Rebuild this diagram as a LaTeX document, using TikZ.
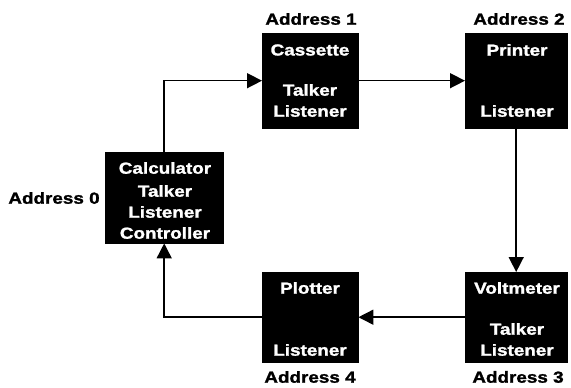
\documentclass[tikz,border=0pt]{standalone}
\usepackage{fontspec}
\setmainfont{Liberation Sans}[FakeStretch=1.18,FakeBold=1.5]
\usetikzlibrary{arrows.meta}

\begin{document}
\begin{tikzpicture}[x=1pt,y=-1pt]
\tikzstyle{every node}+=[inner sep=0pt,font=\fontsize{16}{19}\selectfont\bfseries]
\tikzstyle{box}=[fill=black,draw=black,anchor=north west]
\tikzstyle{txt}=[text=white]
\tikzstyle{arr}=[line width=1.5pt,-{Triangle[length=15pt,width=15pt]}]
\useasboundingbox (0,0) rectangle (571,388);
% units
\node [box,minimum width=118pt,minimum height=91pt] (calc) at (105,152) {};
\node [box,minimum width=96pt,minimum height=95pt] (cass) at (262,33) {};
\node [box,minimum width=102pt,minimum height=95pt] (print) at (465,33) {};
\node [box,minimum width=102pt,minimum height=90pt] (volt) at (465,272) {};
\node [box,minimum width=96pt,minimum height=90pt] (plot) at (262,272) {};
% texts in the units
\node [txt] (calcA) at (165,168) {Calculator};
\node [txt] (calcB) at (165,191) {Talker};
\node [txt] (calcC) at (165,212) {Listener};
\node [txt] (calcD) at (165,233) {Controller};
\node [txt] (cassA) at (310,50) {Cassette};
\node [txt] (cassB) at (310,90) {Talker};
\node [txt] (cassC) at (310,111) {Listener};
\node [txt] (printA) at (517,50) {Printer};
\node [txt] (printB) at (517,111) {Listener};
\node [txt] (voltA) at (517,288) {Voltmeter};
\node [txt] (voltB) at (517,329) {Talker};
\node [txt] (voltC) at (517,350) {Listener};
\node [txt] (plotA) at (310,288) {Plotter};
\node [txt] (plotB) at (310,350) {Listener};
% addresses
\node (adr0) at (54,198) {Address 0};
\node (adr1) at (311,19) {Address 1};
\node (adr2) at (519,19) {Address 2};
\node (adr3) at (518,377) {Address 3};
\node (adr4) at (310,377) {Address 4};
% loop
\draw [arr] (calc.north) |- (cass.west);
\draw [arr] (cass.east) -- (print.west);
\draw [arr] (print.south) -- (volt.north);
\draw [arr] (volt.west) -- (plot.east);
\draw [arr] (plot.west) -| (calc.south);
\end{tikzpicture}
\end{document}
